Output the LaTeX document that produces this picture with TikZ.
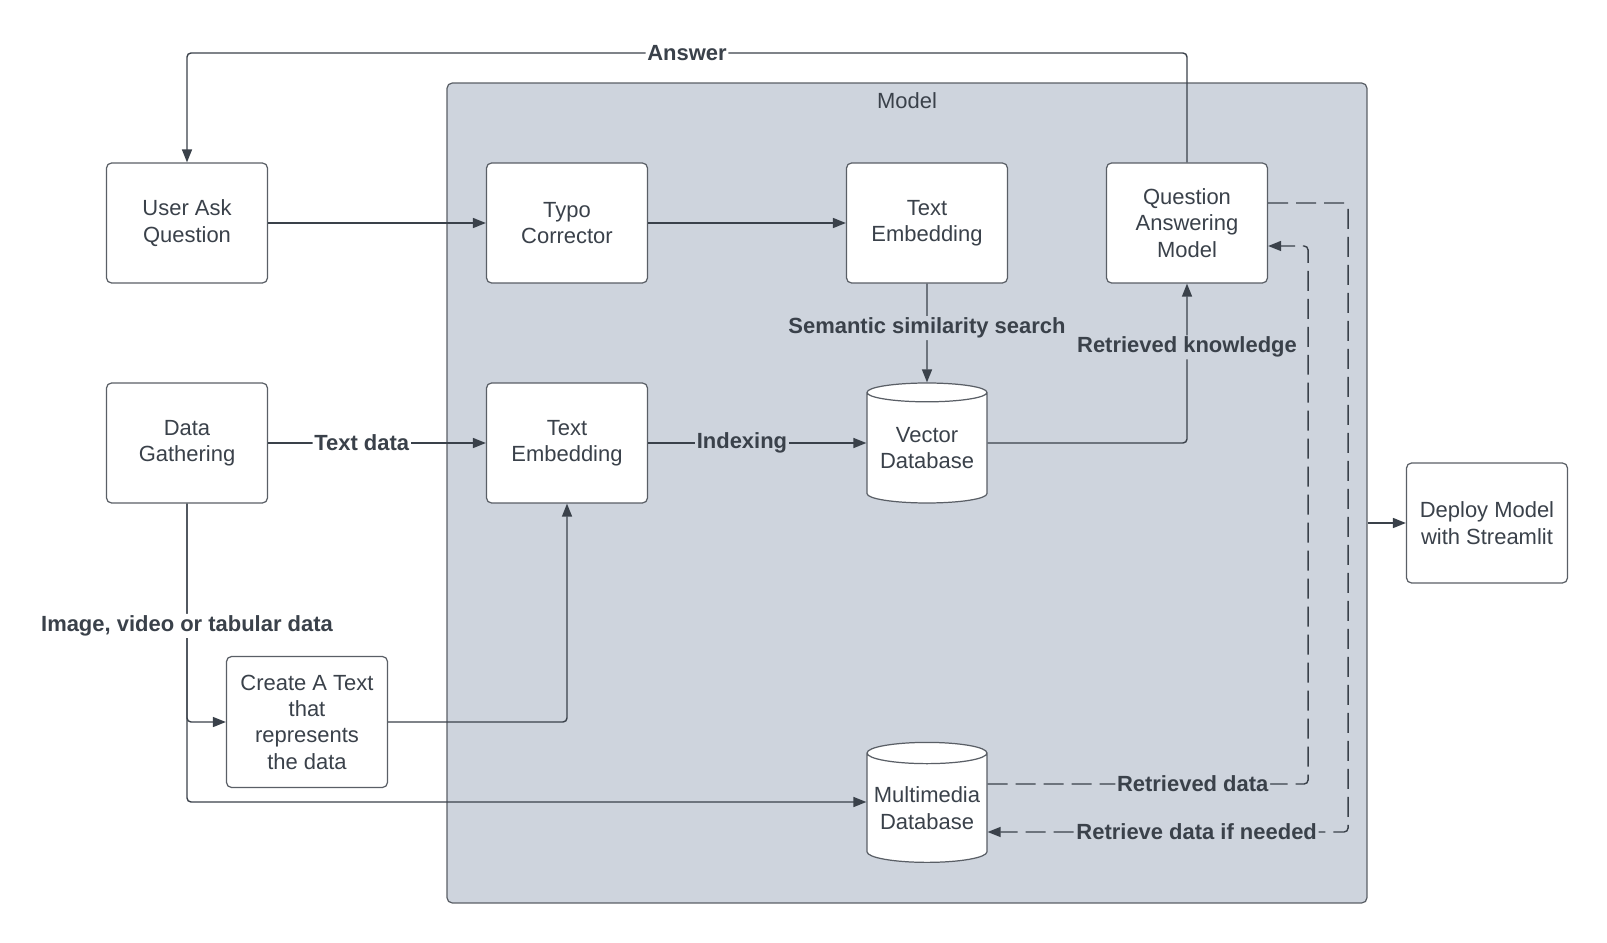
\documentclass[tikz,border=0pt]{standalone}
\usepackage{fontspec}
\setmainfont{Liberation Sans}
\usetikzlibrary{arrows.meta,shapes.geometric}
\definecolor{modelbg}{HTML}{CED4DD}
\definecolor{inkline}{HTML}{3A414A}
\definecolor{boxline}{HTML}{5A5F66}

\begin{document}
\begin{tikzpicture}[x=0.02cm,y=-0.02cm,
	font=\fontsize{12.5}{15}\selectfont, text=inkline,
	blk/.style={draw=boxline,fill=white,rounded corners=0.1cm,line width=0.7pt,minimum width=3.22cm,minimum height=2.4cm,align=center,inner sep=2pt},
	db/.style={cylinder,shape border rotate=90,aspect=0.2,draw=boxline,fill=white,line width=0.7pt,minimum width=2.4cm,minimum height=2.4cm,align=center,inner sep=0pt},
	conn/.style={draw=inkline,line width=0.8pt,rounded corners=0.08cm,-{Triangle[length=0.26cm,width=0.2cm]}},
	dsh/.style={conn,dash pattern=on 0.4cm off 0.16cm},
	lbl/.style={font=\fontsize{12.5}{15}\selectfont\bfseries,fill=modelbg,inner sep=1pt},
	lblw/.style={lbl,fill=white}]
			\useasboundingbox (0,0) rectangle (1607,943);
			
			\node[draw=boxline,fill=modelbg,rounded corners=0.1cm,line width=0.7pt,minimum width=18.4cm,minimum height=16.4cm] (0)at(907,493) {};
			\node (mt)at(907,101) {Model};
			
			\node[blk] (1)at(187,223) {User Ask\\Question};
			\node[blk] (2)at(567,223) {Typo\\Corrector};
			\node[blk] (3)at(927,223) {Text\\Embedding};
			\node[blk] (4)at(1187,223) {Question\\Answering\\Model};
			\node[blk] (5)at(187,443) {Data\\Gathering};
			\node[blk] (6)at(567,443) {Text\\Embedding};
			\node[db] (7)at(927,448) {Vector\\Database};
			\node[blk,minimum height=2.62cm] (8)at(307,722) {Create A Text\\that\\represents\\the data};
			\node[db] (9)at(927,808) {Multimedia\\Database};
			\node[blk] (10)at(1487,523) {Deploy Model\\with Streamlit};
			
			\draw[conn] (4.north) -- (4.north |- 0,53) -- node[lblw]{Answer} (1.north |- 0,53) -- (1.north);
			\draw[conn] (1) -- (2);
			\draw[conn] (2) -- (3);
			\draw[conn] (3) -- node[lbl,pos=0.45]{Semantic similarity search} (7);
			\draw[conn] (6.east -| 7.east) -| node[lbl,pos=0.8]{Retrieved knowledge} (4.south);
			\draw[conn] (5) -- node[lblw,pos=0.43]{Text data} (6);
			\draw[conn] (6.east) -- node[lbl,pos=0.43]{Indexing} (6.east -| 7.west);
			\draw[conn] (5.south) |- ([yshift=0.12cm]9.west);
			\draw[conn] (5.south) |- node[lblw,pos=0.28]{Image, video or tabular data} (8.west);
			\draw[conn] (8.east) -| (6.south);
			\draw[dsh] ([yshift=0.48cm]9.east) -| node[lbl,pos=0.32]{Retrieved data} ([xshift=0.8cm,yshift=-0.46cm]4.east) -- ([yshift=-0.46cm]4.east);
			\draw[dsh] ([yshift=0.4cm]4.east) -- ([xshift=1.6cm,yshift=0.4cm]4.east) |- node[lbl,pos=0.71]{Retrieve data if needed} ([yshift=-0.48cm]9.east);
			\draw[conn] (0.east |- 10.west) -- (10.west);
		\end{tikzpicture}
\end{document}
